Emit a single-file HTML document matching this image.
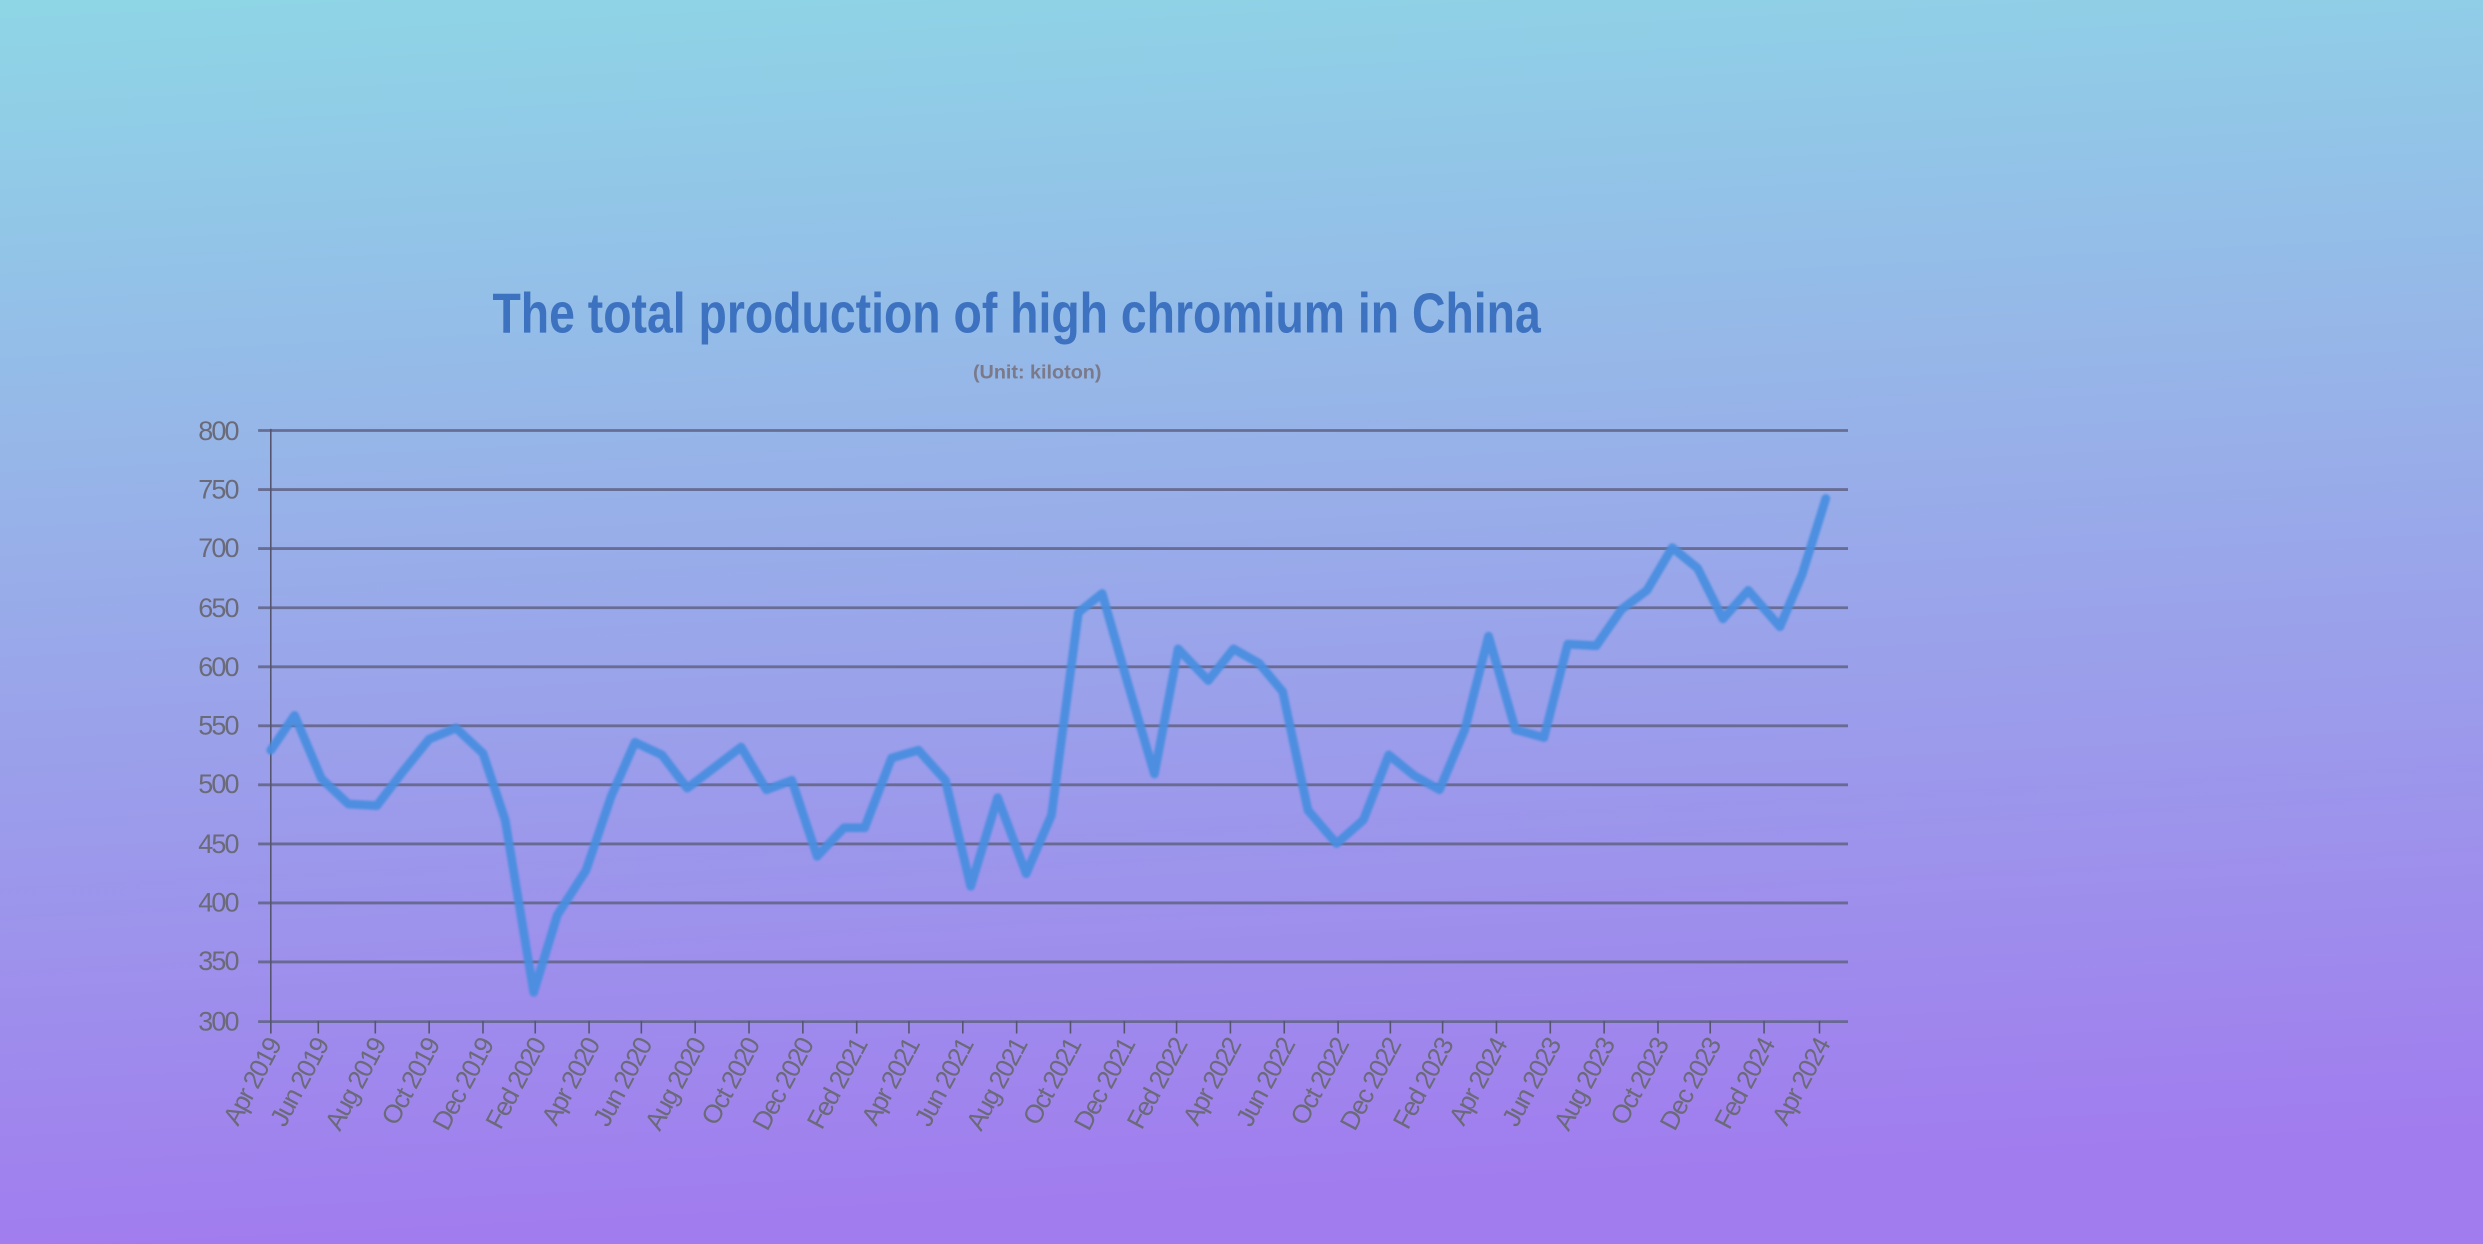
<!DOCTYPE html>
<html><head><meta charset="utf-8"><style>
html,body{margin:0;padding:0;width:2483px;height:1244px;overflow:hidden}
svg{display:block}
</style></head><body>
<svg width="2483" height="1244" viewBox="0 0 1568 786" preserveAspectRatio="none" xmlns="http://www.w3.org/2000/svg">
<defs>
<linearGradient id="bg" x1="0" y1="0" x2="0.1" y2="1">
<stop offset="0" stop-color="#8ed6e6"/>
<stop offset="0.45" stop-color="#98aee9"/>
<stop offset="1" stop-color="#a17cee"/>
</linearGradient>
<filter id="bl"><feGaussianBlur stdDeviation="0.7"/></filter>
</defs>
<rect width="1568" height="786" fill="url(#bg)"/>
<text x="642" y="210" text-anchor="middle" font-family="'Liberation Sans Narrow','Liberation Sans',sans-serif" font-weight="bold" font-size="36" fill="#3d72c0" textLength="662" lengthAdjust="spacingAndGlyphs">The total production of high chromium in China</text>
<text x="655" y="239" text-anchor="middle" font-family="'Liberation Sans',sans-serif" font-weight="bold" font-size="12.5" fill="#7a7a8a">(Unit: kiloton)</text>
<g stroke="#64668a" stroke-width="1.8" opacity="0.9">
<line x1="163" y1="272" x2="1167" y2="272"/>
<line x1="163" y1="309.3" x2="1167" y2="309.3"/>
<line x1="163" y1="346.6" x2="1167" y2="346.6"/>
<line x1="163" y1="384" x2="1167" y2="384"/>
<line x1="163" y1="421.3" x2="1167" y2="421.3"/>
<line x1="163" y1="458.6" x2="1167" y2="458.6"/>
<line x1="163" y1="495.9" x2="1167" y2="495.9"/>
<line x1="163" y1="533.2" x2="1167" y2="533.2"/>
<line x1="163" y1="570.5" x2="1167" y2="570.5"/>
<line x1="163" y1="607.8" x2="1167" y2="607.8"/>
<line x1="163" y1="645.5" x2="1167" y2="645.5"/>
</g>
<line x1="171" y1="271" x2="171" y2="653" stroke="#555570" stroke-width="1"/>
<g stroke="#555570" stroke-width="1">
<line x1="171" y1="645" x2="171" y2="653"/><line x1="201" y1="645" x2="201" y2="653"/><line x1="237" y1="645" x2="237" y2="653"/><line x1="271" y1="645" x2="271" y2="653"/><line x1="305" y1="645" x2="305" y2="653"/><line x1="338" y1="645" x2="338" y2="653"/><line x1="372" y1="645" x2="372" y2="653"/><line x1="405" y1="645" x2="405" y2="653"/><line x1="439" y1="645" x2="439" y2="653"/><line x1="473" y1="645" x2="473" y2="653"/><line x1="507" y1="645" x2="507" y2="653"/><line x1="541" y1="645" x2="541" y2="653"/><line x1="574" y1="645" x2="574" y2="653"/><line x1="608" y1="645" x2="608" y2="653"/><line x1="642" y1="645" x2="642" y2="653"/><line x1="676" y1="645" x2="676" y2="653"/><line x1="710" y1="645" x2="710" y2="653"/><line x1="743" y1="645" x2="743" y2="653"/><line x1="777" y1="645" x2="777" y2="653"/><line x1="811" y1="645" x2="811" y2="653"/><line x1="845" y1="645" x2="845" y2="653"/><line x1="878" y1="645" x2="878" y2="653"/><line x1="911" y1="645" x2="911" y2="653"/><line x1="945" y1="645" x2="945" y2="653"/><line x1="979" y1="645" x2="979" y2="653"/><line x1="1013" y1="645" x2="1013" y2="653"/><line x1="1047" y1="645" x2="1047" y2="653"/><line x1="1080" y1="645" x2="1080" y2="653"/><line x1="1114" y1="645" x2="1114" y2="653"/><line x1="1149" y1="645" x2="1149" y2="653"/>
</g>
<g font-family="'Liberation Sans',sans-serif" font-size="17" fill="#6a6a78" text-anchor="end" letter-spacing="-1.2">
<text x="150" y="278">800</text><text x="150" y="315">750</text><text x="150" y="352">700</text><text x="150" y="390">650</text><text x="150" y="427">600</text><text x="150" y="464">550</text><text x="150" y="501">500</text><text x="150" y="539">450</text><text x="150" y="576">400</text><text x="150" y="613">350</text><text x="150" y="651">300</text>
</g>
<g font-family="'Liberation Sans',sans-serif" font-size="16.5" fill="#6a6a78" text-anchor="end" letter-spacing="-1">
<text transform="translate(178,660) rotate(-62)">Apr 2019</text>
<text transform="translate(208,660) rotate(-62)">Jun 2019</text>
<text transform="translate(244,660) rotate(-62)">Aug 2019</text>
<text transform="translate(278,660) rotate(-62)">Oct 2019</text>
<text transform="translate(312,660) rotate(-62)">Dec 2019</text>
<text transform="translate(345,660) rotate(-62)">Fed 2020</text>
<text transform="translate(379,660) rotate(-62)">Apr 2020</text>
<text transform="translate(412,660) rotate(-62)">Jun 2020</text>
<text transform="translate(446,660) rotate(-62)">Aug 2020</text>
<text transform="translate(480,660) rotate(-62)">Oct 2020</text>
<text transform="translate(514,660) rotate(-62)">Dec 2020</text>
<text transform="translate(548,660) rotate(-62)">Fed 2021</text>
<text transform="translate(581,660) rotate(-62)">Apr 2021</text>
<text transform="translate(615,660) rotate(-62)">Jun 2021</text>
<text transform="translate(649,660) rotate(-62)">Aug 2021</text>
<text transform="translate(683,660) rotate(-62)">Oct 2021</text>
<text transform="translate(717,660) rotate(-62)">Dec 2021</text>
<text transform="translate(750,660) rotate(-62)">Fed 2022</text>
<text transform="translate(784,660) rotate(-62)">Apr 2022</text>
<text transform="translate(818,660) rotate(-62)">Jun 2022</text>
<text transform="translate(852,660) rotate(-62)">Oct 2022</text>
<text transform="translate(885,660) rotate(-62)">Dec 2022</text>
<text transform="translate(918,660) rotate(-62)">Fed 2023</text>
<text transform="translate(952,660) rotate(-62)">Apr 2024</text>
<text transform="translate(986,660) rotate(-62)">Jun 2023</text>
<text transform="translate(1020,660) rotate(-62)">Aug 2023</text>
<text transform="translate(1054,660) rotate(-62)">Oct 2023</text>
<text transform="translate(1087,660) rotate(-62)">Dec 2023</text>
<text transform="translate(1121,660) rotate(-62)">Fed 2024</text>
<text transform="translate(1156,660) rotate(-62)">Apr 2024</text>
</g>
<polyline filter="url(#bl)" fill="none" stroke="#4a8ee0" stroke-width="5.5" stroke-linejoin="round" stroke-linecap="round" opacity="0.95" points="171,474 186,452 203,492 220,508 238,509 254,488 271,467 288,460 305,476 319,518 337,627 352,578 370,550 386,503 401,469 418,477 434,498 451,485 468,472 484,499 500,493 516,541 533,523 546,523 563,479 580,474 597,493 613,560 630,504 648,552 664,515 681,387 696,375 712,431 729,489 744,410 763,430 779,410 795,419 810,437 826,512 844,533 861,518 877,477 893,490 909,499 925,461 940,402 957,461 975,466 990,407 1008,408 1024,385 1040,373 1056,346 1072,359 1088,391 1104,373 1124,396 1138,363 1153,315"/>
</svg>
</body></html>
